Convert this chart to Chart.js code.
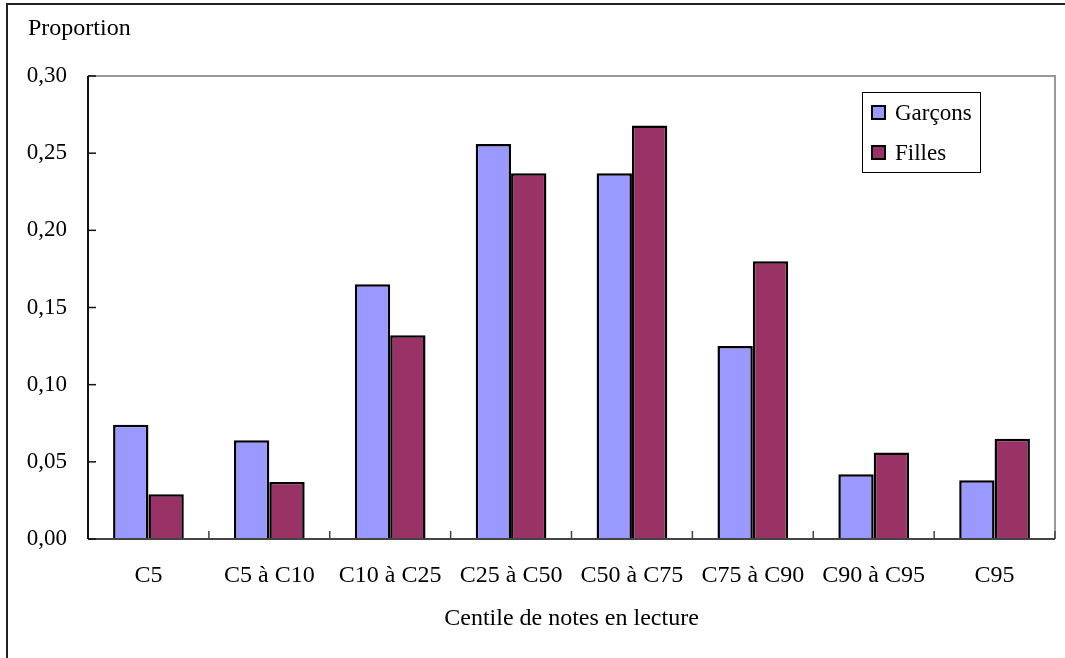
<!DOCTYPE html>
<html lang="fr">
<head>
<meta charset="utf-8">
<title>Proportion par centile de notes en lecture</title>
<script src="https://cdn.jsdelivr.net/npm/chart.js@4.4.1/dist/chart.umd.min.js"></script>
<style>
  html, body { margin: 0; padding: 0; background: #ffffff; }
  #wrap { width: 1065px; height: 658px; position: relative; }
</style>
</head>
<body>
<div id="wrap"><canvas id="chart" width="1065" height="658"></canvas></div>
<script>
// Centile groups along the horizontal axis
const categories = ['C5', 'C5 à C10', 'C10 à C25', 'C25 à C50', 'C50 à C75', 'C75 à C90', 'C90 à C95', 'C95'];
// Share of pupils in each group
const garcons = [0.074, 0.064, 0.165, 0.256, 0.237, 0.125, 0.042, 0.038];
const filles  = [0.029, 0.037, 0.132, 0.237, 0.268, 0.180, 0.056, 0.065];
const seriesNames = ['Garçons', 'Filles'];
const yTicks = [0, 0.05, 0.10, 0.15, 0.20, 0.25, 0.30];
const yTitle = 'Proportion';
const xTitle = 'Centile de notes en lecture';

const FONT = '"Liberation Serif", "Times New Roman", serif';

// Frame, axis lines, inward tick marks, titles and the boxed legend
const decorations = {
  id: 'decorations',
  afterDraw(chart) {
    const { ctx, chartArea: a, scales } = chart;
    ctx.save();

    // outer frame
    ctx.strokeStyle = '#222';
    ctx.lineWidth = 2;
    ctx.beginPath();
    ctx.moveTo(7, 700);
    ctx.lineTo(7, 4);
    ctx.lineTo(1100, 4);
    ctx.stroke();

    // top and right edges of the plot area
    ctx.strokeStyle = '#999';
    ctx.lineWidth = 2;
    ctx.beginPath();
    ctx.moveTo(a.left, a.top);
    ctx.lineTo(a.right, a.top);
    ctx.lineTo(a.right, a.bottom);
    ctx.stroke();

    // bottom axis
    ctx.strokeStyle = '#444';
    ctx.beginPath();
    ctx.moveTo(a.left, a.bottom);
    ctx.lineTo(a.right, a.bottom);
    ctx.stroke();
    // category separators
    ctx.lineWidth = 1.5;
    const n = categories.length;
    for (let i = 1; i <= n; i++) {
      const x = a.left + (a.right - a.left) * i / n;
      ctx.beginPath();
      ctx.moveTo(x, a.bottom);
      ctx.lineTo(x, a.bottom - 8);
      ctx.stroke();
    }

    // left axis with inward ticks
    ctx.strokeStyle = '#111';
    ctx.lineWidth = 2;
    ctx.beginPath();
    ctx.moveTo(a.left, a.top);
    ctx.lineTo(a.left, a.bottom);
    ctx.stroke();
    ctx.lineWidth = 1.5;
    yTicks.forEach(v => {
      const y = scales.y.getPixelForValue(v);
      ctx.beginPath();
      ctx.moveTo(a.left, y);
      ctx.lineTo(a.left + 8, y);
      ctx.stroke();
    });

    // titles
    ctx.fillStyle = '#000';
    ctx.font = '24px ' + FONT;
    ctx.textBaseline = 'middle';
    ctx.textAlign = 'left';
    ctx.fillText(yTitle, 28, 29);
    ctx.textAlign = 'center';
    ctx.fillText(xTitle, (a.left + a.right) / 2, 619);

    // legend
    ctx.font = '23px ' + FONT;
    const lx = a.right - 193, ly = a.top + 16, lw = 118, lh = 80;
    ctx.fillStyle = '#fff';
    ctx.fillRect(lx, ly, lw, lh);
    ctx.strokeStyle = '#000';
    ctx.lineWidth = 1;
    ctx.strokeRect(lx + 0.5, ly + 0.5, lw, lh);
    chart.data.datasets.forEach((ds, i) => {
      const cy = ly + 21 + i * 40;
      ctx.fillStyle = ds.backgroundColor;
      ctx.fillRect(lx + 10, cy - 7, 13, 13);
      ctx.strokeStyle = '#000';
      ctx.lineWidth = 2;
      ctx.strokeRect(lx + 10, cy - 7, 13, 13);
      ctx.fillStyle = '#000';
      ctx.textAlign = 'left';
      ctx.fillText(ds.label, lx + 33, cy + 1);
    });

    ctx.restore();
  }
};

new Chart(document.getElementById('chart'), {
  type: 'bar',
  data: {
    labels: categories,
    datasets: [
      { label: seriesNames[0], data: garcons, backgroundColor: '#9999FF', borderColor: '#000', borderWidth: 2.5 },
      { label: seriesNames[1], data: filles, backgroundColor: '#993366', borderColor: '#000', borderWidth: 2.5 }
    ]
  },
  options: {
    responsive: false,
    animation: false,
    devicePixelRatio: 1,
    layout: { padding: { left: 0, top: 76, right: 10, bottom: 0 } },
    datasets: { bar: { categoryPercentage: 0.585, barPercentage: 1 } },
    plugins: { legend: { display: false }, tooltip: { enabled: false } },
    scales: {
      x: {
        grid: { display: false, drawTicks: false },
        border: { display: false },
        ticks: { color: '#000', font: { family: FONT, size: 24 }, padding: 22, maxRotation: 0, autoSkip: false },
        afterFit(scale) { scale.height = 658 - 539; }
      },
      y: {
        min: 0,
        max: 0.30,
        grid: { display: false, drawTicks: false },
        border: { display: false },
        afterBuildTicks(scale) { scale.ticks = yTicks.map(v => ({ value: v })); },
        ticks: {
          color: '#000',
          font: { family: FONT, size: 23 },
          padding: 21,
          callback: v => v.toFixed(2).replace('.', ',')
        },
        afterFit(scale) { scale.width = 88; }
      }
    }
  },
  plugins: [decorations]
});
</script>
</body>
</html>
